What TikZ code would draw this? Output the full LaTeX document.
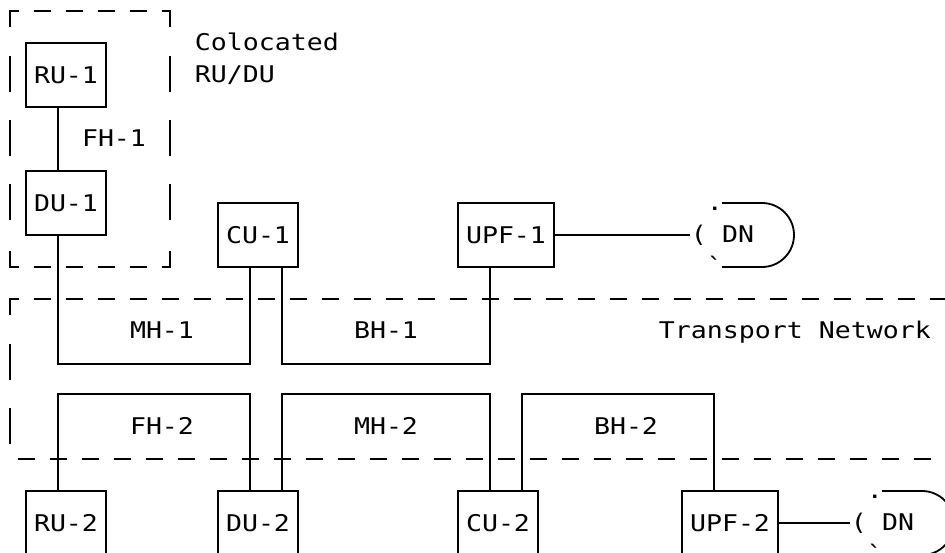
\documentclass[tikz,border=0pt]{standalone}
\usepackage{fontspec}
\setmonofont[FakeStretch=1.155]{DejaVu Sans Mono}
\begin{document}
\begin{tikzpicture}[x=16pt, y=-32pt, line width=1.8pt,
  txt/.style={font=\ttfamily\fontsize{23}{27}\selectfont},
  box/.style={txt, draw, inner sep=0pt, minimum height=64pt, minimum width=80pt},
  widebox/.style={box, minimum width=96pt},
  lbl/.style={txt, inner sep=0pt, anchor=base},
  lbll/.style={txt, inner sep=0pt, anchor=base west},
  hd/.style={dash pattern=on 17pt off 15pt}]
\fill[white] (-0.625,-0.34375) rectangle (58.4375,16.90625);
\useasboundingbox (-0.625,-0.34375) rectangle (58.4375,16.90625);
\clip (-0.625,-0.34375) rectangle (58.4375,16.90625);

% colocated RU/DU dashed box
\draw[hd, dash phase=8.5pt] (0,0) -- (10,0);
\draw[hd, dash phase=8.5pt] (0,8) -- (10,8);
\foreach \xx in {0,10} {
  \draw (\xx,0) -- (\xx,0.5);
  \draw (\xx,7.5) -- (\xx,8);
  \foreach \r in {2,4,6} \draw (\xx,\r-0.59375) -- (\xx,\r+0.53125);
}
\draw (0,0.5) -- (0,0) -- (0.53,0);
\draw (9.47,0) -- (10,0) -- (10,0.5);
\draw (0,7.5) -- (0,8) -- (0.53,8);
\draw (9.47,8) -- (10,8) -- (10,7.5);

% transport network
\draw[hd, dash phase=8.5pt] (0,9) -- (58.5,9);
\draw (0,9.5) -- (0,9) -- (0.53,9);
\foreach \r in {11,13} \draw (0,\r-0.59375) -- (0,\r+0.53125);
\draw[hd, dash phase=24.5pt] (0,14) -- (58.5,14);

% boxes
\node[box] (RU1) at (3.5,2) {RU-1};
\node[box] (DU1) at (3.5,6) {DU-1};
\node[box] (CU1) at (15.5,7) {CU-1};
\node[widebox] (UPF1) at (31,7) {UPF-1};
\node[box] (RU2) at (3.5,16) {RU-2};
\node[box] (DU2) at (15.5,16) {DU-2};
\node[box] (CU2) at (30.5,16) {CU-2};
\node[widebox] (UPF2) at (45,16) {UPF-2};

% connectors
\draw ([xshift=-8pt]RU1.south) -- ([xshift=-8pt]DU1.north);
\draw ([xshift=-8pt]DU1.south) -- ++(0,4) -| ([xshift=-8pt]CU1.south);
\draw ([xshift=24pt]CU1.south) -- ++(0,3) -| ([xshift=-16pt]UPF1.south);
\draw ([xshift=-8pt]RU2.north) -- ++(0,-3) -| ([xshift=-8pt]DU2.north);
\draw ([xshift=24pt]DU2.north) -- ++(0,-3) -| ([xshift=-8pt]CU2.north);
\draw ([xshift=24pt]CU2.north) -- ++(0,-3) -| ([xshift=-16pt]UPF2.north);

% labels
\node[lbl] (fh1) at (6.5,4.219) {FH-1};
\node[lbl] (mh1) at (9.5,10.219) {MH-1};
\node[lbl] (bh1) at (23.5,10.219) {BH-1};
\node[lbl] (fh2) at (9.5,13.219) {FH-2};
\node[lbl] (mh2) at (23.5,13.219) {MH-2};
\node[lbl] (bh2) at (38.5,13.219) {BH-2};
\node[lbll] (coloc) at (11.5,1.219) {Colocated};
\node[lbll] (rudu) at (11.5,2.219) {RU/DU};
\node[lbll] (tn) at (40.5,10.219) {Transport Network};

% data network 1
\node[lbll] (par1) at (42.5,7.219) {(};
\node[lbll] (dot1) at (43.5,6.219) {.};
\node[lbll] (tick1) at (43.5,8.219) {`};
\node[lbl] (dn1) at (45.5,7.219) {DN};
\draw (UPF1.east) -- (UPF1.east -| par1.west);
\draw (44.5,6) -- (47,6) arc[start angle=90, end angle=-90, radius=32pt] -- (44.5,8);

% data network 2
\node[lbll] (par2) at (52.5,16.219) {(};
\node[lbll] (dot2) at (53.5,15.219) {.};
\node[lbll] (tick2) at (53.5,17.219) {`};
\node[lbl] (dn2) at (55.5,16.219) {DN};
\draw (UPF2.east) -- (UPF2.east -| par2.west);
\draw (54.5,15) -- (57,15) arc[start angle=90, end angle=-90, radius=32pt] -- (54.5,17);
\end{tikzpicture}
\end{document}
